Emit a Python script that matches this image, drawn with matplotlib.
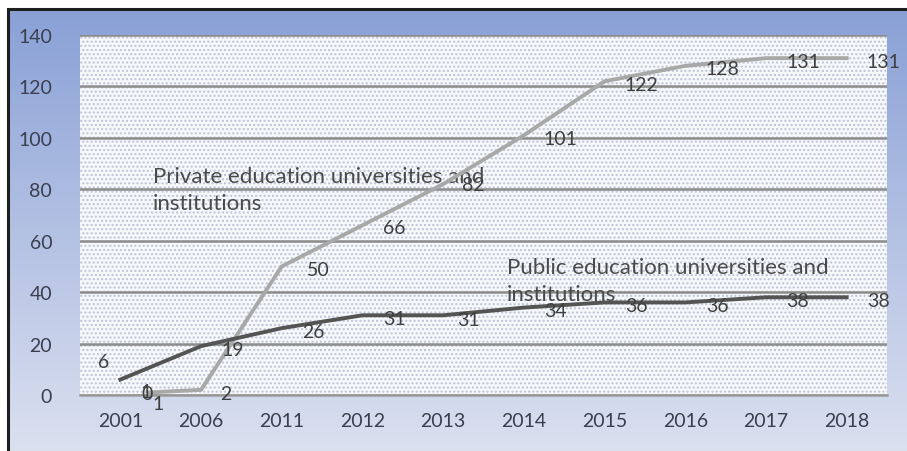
import numpy as np
import matplotlib
matplotlib.use('Agg')
import matplotlib.pyplot as plt
from matplotlib.patches import Rectangle

years = ['2001', '2006', '2011', '2012', '2013', '2014', '2015', '2016', '2017', '2018']
public = [6, 19, 26, 31, 31, 34, 36, 36, 38, 38]
private = [1, 2, 50, 66, 82, 101, 122, 128, 131, 131]
private_pos = [0.35, 1, 2, 3, 4, 5, 6, 7, 8, 9]   # first private point sits a bit right of 2001

plt.rcParams['font.family'] = ['Lato', 'DejaVu Sans']
plt.rcParams['hatch.color'] = '#bcc3d3'
plt.rcParams['hatch.linewidth'] = 1.0

W, H = 907, 452
fig = plt.figure(figsize=(W / 100, H / 100), dpi=100)
fig.patch.set_facecolor('white')

# blue gradient frame behind the chart
bg = fig.add_axes([8 / W, 0, 1 - 8 / W, (H - 10) / H])
grad = np.linspace(0, 1, 256).reshape(-1, 1)
top = np.array([0.54, 0.63, 0.84])
bot = np.array([0.86, 0.88, 0.94])
img = top + (bot - top) * grad[..., None]
bg.imshow(img, aspect='auto', extent=[0, 1, 0, 1])
bg.set_xlim(0, 1)
bg.set_ylim(0, 1)
bg.axis('off')
fig.add_artist(Rectangle((8 / W, -0.05), 1.2, (H - 10) / H + 0.05, transform=fig.transFigure,
                         facecolor='none', edgecolor='#1e1e1e', lw=2.2))

ax = fig.add_axes([80 / W, 56 / H, 807 / W, 360 / H])
ax.patch.set_facecolor('#f7f8fc')
ax.patch.set_hatch('....')
ax.patch.set_edgecolor('#bcc3d3')
ax.patch.set_linewidth(0)

x = np.arange(len(years))
ax.plot(private_pos, private, color='#a8a8a8', lw=2.8, solid_joinstyle='round', zorder=3)
ax.plot(x, public, color='#545454', lw=2.8, solid_joinstyle='round', zorder=4)

ax.set_xlim(-0.5, len(years) - 0.5)
ax.set_ylim(0, 140)
ax.set_yticks(range(0, 141, 20))
ax.set_xticks(x)
ax.set_xticklabels(years)
ax.tick_params(length=0, labelsize=14, colors='#3a3f50')
ax.tick_params(axis='y', pad=20)
ax.tick_params(axis='x', pad=12)
for s in ['top', 'right', 'left']:
    ax.spines[s].set_visible(False)
ax.spines['bottom'].set_color('#9a9a9a')
ax.spines['bottom'].set_linewidth(1.8)
ax.yaxis.grid(True, color='#8c8c8c', lw=1.8)
ax.set_axisbelow(True)

lab = dict(fontsize=14, color='#3f3f3f', ha='center', va='center',
           textcoords='offset pixels', annotation_clip=False, zorder=5)

# data labels, mostly to the right of each point
for i, v in enumerate(public):
    off = (32, -3)
    if i == 0:
        off = (-17, 18)
    elif i == 4:
        off = (25, -4)
    ax.annotate(str(v), (x[i], v), xytext=off, **lab)
for i, v in enumerate(private):
    off = (37, -3)
    if i == 0:
        continue
    if i == 1:
        off = (25, -4)
    elif i == 3:
        off = (32, -2)
    elif i == 4:
        off = (30, 0)
    ax.annotate(str(v), (private_pos[i], v), xytext=off, **lab)
# overlapping labels near the start of the private line
ax.annotate('0', (private_pos[0], private[0]), xytext=(-2, -1), **lab)
ax.annotate('1', (private_pos[0], private[0]), xytext=(-3, 1), **lab)
ax.annotate('1', (private_pos[0], private[0]), xytext=(9, -11), **lab)

ax.text(0.09, 0.57, 'Private education universities and\ninstitutions', transform=ax.transAxes,
        fontsize=16, color='#4a4a4a', ha='left', va='center', linespacing=1.45, zorder=2)
ax.text(0.529, 0.318, 'Public education universities and\ninstitutions', transform=ax.transAxes,
        fontsize=16, color='#4a4a4a', ha='left', va='center', linespacing=1.45, zorder=2)

fig.savefig('out.png', dpi=100)
